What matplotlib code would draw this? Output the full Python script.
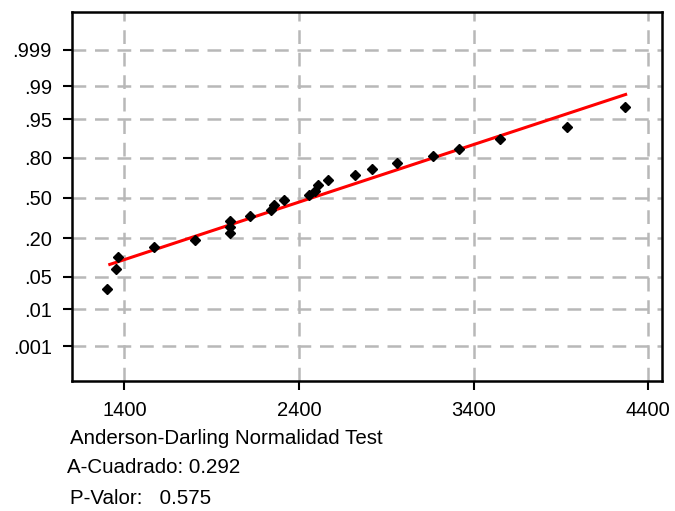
import numpy as np
import matplotlib
matplotlib.use("Agg")
import matplotlib.pyplot as plt
from statistics import NormalDist

# Sorted sample values (n = 24)
sample = [1298, 1353, 1366, 1572, 1804, 2007, 2007, 2007, 2120, 2242, 2258, 2314,
          2456, 2490, 2511, 2565, 2721, 2818, 2960, 3165, 3319, 3549, 3933, 4267]

# Fitted normal distribution drawn as the reference line
fit_mean = 2472
fit_stdev = 833

prob_ticks = [0.001, 0.01, 0.05, 0.20, 0.50, 0.80, 0.95, 0.99, 0.999]
prob_labels = [".001", ".01", ".05", ".20", ".50", ".80", ".95", ".99", ".999"]
x_ticks = [1400, 2400, 3400, 4400]

ad_title = "Anderson-Darling Normalidad Test"
a_squared = 0.292
p_value = 0.575

nd = NormalDist()
n = len(sample)
x = np.array(sample, dtype=float)
# median-rank plotting positions (i - 0.3) / (n + 0.4)
ranks = np.arange(1, n + 1)
pp = (ranks - 0.3) / (n + 0.4)
z = np.array([nd.inv_cdf(p) for p in pp])

line_x = np.array([x.min() + 10, x.max() + 12])
line_z = (line_x - fit_mean) / fit_stdev

plt.rcParams['font.family'] = ['Liberation Sans', 'DejaVu Sans']

fig = plt.figure(figsize=(6.75, 5.11), dpi=100)
ax = fig.add_axes([0.1067, 0.2544, 0.981 - 0.1067, 0.9765 - 0.2544])

grid_kw = dict(color="#b8b8b8", lw=1.8, dashes=(5.5, 3.5), zorder=0)
for p in prob_ticks:
    ax.axhline(nd.inv_cdf(p), **grid_kw)
for t in x_ticks:
    ax.axvline(t, **grid_kw)

ax.plot(line_x, line_z, color="#ff0000", lw=2.2, zorder=2, solid_capstyle="butt")
ax.plot(x, z, "D", color="black", ms=5, zorder=3)

ax.set_xlim(1100, 4480)
ax.set_ylim(-3.82, 3.88)
ax.set_xticks(x_ticks)
ax.set_xticklabels([str(t) for t in x_ticks])
ax.set_yticks([nd.inv_cdf(p) for p in prob_ticks])
ax.set_yticklabels(prob_labels)
ax.tick_params(axis="both", direction="out", length=6.5, width=1.5, labelsize=14.5, colors="black")
ax.tick_params(axis="y", pad=8)
ax.tick_params(axis="x", pad=8)
for s in ax.spines.values():
    s.set_linewidth(1.8)
    s.set_color("black")

fs = 14.8
fig.text(70 / 675, 1 - 438 / 511, ad_title, fontsize=fs, va="center", ha="left")
fig.text(67 / 675, 1 - 467 / 511, f"A-Cuadrado: {a_squared:.3f}", fontsize=fs, va="center", ha="left")
fig.text(70 / 675, 1 - 498 / 511, f"P-Valor:   {p_value:.3f}", fontsize=fs, va="center", ha="left")

fig.savefig("out.png", dpi=100)
